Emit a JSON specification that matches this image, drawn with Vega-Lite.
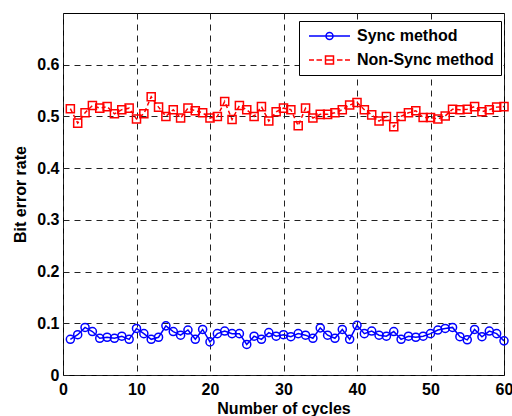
{
  "$schema": "https://vega.github.io/schema/vega-lite/v6.json",
  "width": 441,
  "height": 362,
  "padding": {"left": 63, "top": 13, "right": 8, "bottom": 41},
  "autosize": {"type": "none"},
  "background": "white",
  "config": {
    "view": {"stroke": "black", "strokeWidth": 1},
    "font": "Liberation Sans",
    "axis": {
      "labelFont": "Liberation Sans",
      "labelFontWeight": "bold",
      "labelFontSize": 16,
      "labelColor": "black",
      "titleFont": "Liberation Sans",
      "titleFontWeight": "bold",
      "titleFontSize": 16,
      "titleColor": "black",
      "ticks": false,
      "domain": false,
      "grid": true,
      "gridColor": "#222",
      "gridDash": [6, 5],
      "gridWidth": 1
    }
  },
  "data": {
    "values": [
      {"cycle": 1, "ber": 0.069, "method": "Sync method"},
      {"cycle": 2, "ber": 0.078, "method": "Sync method"},
      {"cycle": 3, "ber": 0.092, "method": "Sync method"},
      {"cycle": 4, "ber": 0.084, "method": "Sync method"},
      {"cycle": 5, "ber": 0.071, "method": "Sync method"},
      {"cycle": 6, "ber": 0.073, "method": "Sync method"},
      {"cycle": 7, "ber": 0.071, "method": "Sync method"},
      {"cycle": 8, "ber": 0.075, "method": "Sync method"},
      {"cycle": 9, "ber": 0.069, "method": "Sync method"},
      {"cycle": 10, "ber": 0.090, "method": "Sync method"},
      {"cycle": 11, "ber": 0.080, "method": "Sync method"},
      {"cycle": 12, "ber": 0.069, "method": "Sync method"},
      {"cycle": 13, "ber": 0.073, "method": "Sync method"},
      {"cycle": 14, "ber": 0.095, "method": "Sync method"},
      {"cycle": 15, "ber": 0.084, "method": "Sync method"},
      {"cycle": 16, "ber": 0.077, "method": "Sync method"},
      {"cycle": 17, "ber": 0.087, "method": "Sync method"},
      {"cycle": 18, "ber": 0.069, "method": "Sync method"},
      {"cycle": 19, "ber": 0.088, "method": "Sync method"},
      {"cycle": 20, "ber": 0.064, "method": "Sync method"},
      {"cycle": 21, "ber": 0.080, "method": "Sync method"},
      {"cycle": 22, "ber": 0.085, "method": "Sync method"},
      {"cycle": 23, "ber": 0.080, "method": "Sync method"},
      {"cycle": 24, "ber": 0.080, "method": "Sync method"},
      {"cycle": 25, "ber": 0.059, "method": "Sync method"},
      {"cycle": 26, "ber": 0.075, "method": "Sync method"},
      {"cycle": 27, "ber": 0.069, "method": "Sync method"},
      {"cycle": 28, "ber": 0.082, "method": "Sync method"},
      {"cycle": 29, "ber": 0.075, "method": "Sync method"},
      {"cycle": 30, "ber": 0.078, "method": "Sync method"},
      {"cycle": 31, "ber": 0.074, "method": "Sync method"},
      {"cycle": 32, "ber": 0.080, "method": "Sync method"},
      {"cycle": 33, "ber": 0.077, "method": "Sync method"},
      {"cycle": 34, "ber": 0.071, "method": "Sync method"},
      {"cycle": 35, "ber": 0.091, "method": "Sync method"},
      {"cycle": 36, "ber": 0.077, "method": "Sync method"},
      {"cycle": 37, "ber": 0.071, "method": "Sync method"},
      {"cycle": 38, "ber": 0.088, "method": "Sync method"},
      {"cycle": 39, "ber": 0.069, "method": "Sync method"},
      {"cycle": 40, "ber": 0.096, "method": "Sync method"},
      {"cycle": 41, "ber": 0.080, "method": "Sync method"},
      {"cycle": 42, "ber": 0.085, "method": "Sync method"},
      {"cycle": 43, "ber": 0.077, "method": "Sync method"},
      {"cycle": 44, "ber": 0.075, "method": "Sync method"},
      {"cycle": 45, "ber": 0.084, "method": "Sync method"},
      {"cycle": 46, "ber": 0.069, "method": "Sync method"},
      {"cycle": 47, "ber": 0.075, "method": "Sync method"},
      {"cycle": 48, "ber": 0.073, "method": "Sync method"},
      {"cycle": 49, "ber": 0.075, "method": "Sync method"},
      {"cycle": 50, "ber": 0.080, "method": "Sync method"},
      {"cycle": 51, "ber": 0.087, "method": "Sync method"},
      {"cycle": 52, "ber": 0.090, "method": "Sync method"},
      {"cycle": 53, "ber": 0.092, "method": "Sync method"},
      {"cycle": 54, "ber": 0.074, "method": "Sync method"},
      {"cycle": 55, "ber": 0.068, "method": "Sync method"},
      {"cycle": 56, "ber": 0.088, "method": "Sync method"},
      {"cycle": 57, "ber": 0.074, "method": "Sync method"},
      {"cycle": 58, "ber": 0.085, "method": "Sync method"},
      {"cycle": 59, "ber": 0.080, "method": "Sync method"},
      {"cycle": 60, "ber": 0.066, "method": "Sync method"},
      {"cycle": 1, "ber": 0.515, "method": "Non-Sync method"},
      {"cycle": 2, "ber": 0.487, "method": "Non-Sync method"},
      {"cycle": 3, "ber": 0.507, "method": "Non-Sync method"},
      {"cycle": 4, "ber": 0.521, "method": "Non-Sync method"},
      {"cycle": 5, "ber": 0.516, "method": "Non-Sync method"},
      {"cycle": 6, "ber": 0.519, "method": "Non-Sync method"},
      {"cycle": 7, "ber": 0.505, "method": "Non-Sync method"},
      {"cycle": 8, "ber": 0.513, "method": "Non-Sync method"},
      {"cycle": 9, "ber": 0.516, "method": "Non-Sync method"},
      {"cycle": 10, "ber": 0.495, "method": "Non-Sync method"},
      {"cycle": 11, "ber": 0.505, "method": "Non-Sync method"},
      {"cycle": 12, "ber": 0.538, "method": "Non-Sync method"},
      {"cycle": 13, "ber": 0.518, "method": "Non-Sync method"},
      {"cycle": 14, "ber": 0.500, "method": "Non-Sync method"},
      {"cycle": 15, "ber": 0.513, "method": "Non-Sync method"},
      {"cycle": 16, "ber": 0.497, "method": "Non-Sync method"},
      {"cycle": 17, "ber": 0.516, "method": "Non-Sync method"},
      {"cycle": 18, "ber": 0.511, "method": "Non-Sync method"},
      {"cycle": 19, "ber": 0.507, "method": "Non-Sync method"},
      {"cycle": 20, "ber": 0.497, "method": "Non-Sync method"},
      {"cycle": 21, "ber": 0.500, "method": "Non-Sync method"},
      {"cycle": 22, "ber": 0.529, "method": "Non-Sync method"},
      {"cycle": 23, "ber": 0.494, "method": "Non-Sync method"},
      {"cycle": 24, "ber": 0.521, "method": "Non-Sync method"},
      {"cycle": 25, "ber": 0.513, "method": "Non-Sync method"},
      {"cycle": 26, "ber": 0.500, "method": "Non-Sync method"},
      {"cycle": 27, "ber": 0.519, "method": "Non-Sync method"},
      {"cycle": 28, "ber": 0.491, "method": "Non-Sync method"},
      {"cycle": 29, "ber": 0.509, "method": "Non-Sync method"},
      {"cycle": 30, "ber": 0.516, "method": "Non-Sync method"},
      {"cycle": 31, "ber": 0.513, "method": "Non-Sync method"},
      {"cycle": 32, "ber": 0.482, "method": "Non-Sync method"},
      {"cycle": 33, "ber": 0.516, "method": "Non-Sync method"},
      {"cycle": 34, "ber": 0.497, "method": "Non-Sync method"},
      {"cycle": 35, "ber": 0.504, "method": "Non-Sync method"},
      {"cycle": 36, "ber": 0.504, "method": "Non-Sync method"},
      {"cycle": 37, "ber": 0.507, "method": "Non-Sync method"},
      {"cycle": 38, "ber": 0.513, "method": "Non-Sync method"},
      {"cycle": 39, "ber": 0.522, "method": "Non-Sync method"},
      {"cycle": 40, "ber": 0.527, "method": "Non-Sync method"},
      {"cycle": 41, "ber": 0.513, "method": "Non-Sync method"},
      {"cycle": 42, "ber": 0.503, "method": "Non-Sync method"},
      {"cycle": 43, "ber": 0.491, "method": "Non-Sync method"},
      {"cycle": 44, "ber": 0.500, "method": "Non-Sync method"},
      {"cycle": 45, "ber": 0.480, "method": "Non-Sync method"},
      {"cycle": 46, "ber": 0.500, "method": "Non-Sync method"},
      {"cycle": 47, "ber": 0.507, "method": "Non-Sync method"},
      {"cycle": 48, "ber": 0.511, "method": "Non-Sync method"},
      {"cycle": 49, "ber": 0.498, "method": "Non-Sync method"},
      {"cycle": 50, "ber": 0.498, "method": "Non-Sync method"},
      {"cycle": 51, "ber": 0.495, "method": "Non-Sync method"},
      {"cycle": 52, "ber": 0.501, "method": "Non-Sync method"},
      {"cycle": 53, "ber": 0.514, "method": "Non-Sync method"},
      {"cycle": 54, "ber": 0.513, "method": "Non-Sync method"},
      {"cycle": 55, "ber": 0.514, "method": "Non-Sync method"},
      {"cycle": 56, "ber": 0.519, "method": "Non-Sync method"},
      {"cycle": 57, "ber": 0.509, "method": "Non-Sync method"},
      {"cycle": 58, "ber": 0.513, "method": "Non-Sync method"},
      {"cycle": 59, "ber": 0.518, "method": "Non-Sync method"},
      {"cycle": 60, "ber": 0.519, "method": "Non-Sync method"}
    ]
  },
  "encoding": {
    "x": {
      "field": "cycle",
      "type": "quantitative",
      "scale": {"domain": [0, 60], "nice": false},
      "axis": {"values": [0, 10, 20, 30, 40, 50, 60], "title": "Number of cycles", "labelPadding": 6, "titlePadding": 3, "labelFlush": false}
    },
    "y": {
      "field": "ber",
      "type": "quantitative",
      "scale": {"domain": [0, 0.7], "nice": false},
      "axis": {"values": [0, 0.1, 0.2, 0.3, 0.4, 0.5, 0.6], "title": "Bit error rate", "labelPadding": 4, "titlePadding": 8, "labelFlush": false, "labelExpr": "datum.value === 0 ? '0' : format(datum.value, '.1f')"}
    },
    "color": {
      "field": "method",
      "type": "nominal",
      "scale": {"domain": ["Sync method", "Non-Sync method"], "range": ["#0000FF", "#FF0000"]},
      "legend": {
        "title": null,
        "orient": "none",
        "legendX": 236,
        "legendY": 8,
        "padding": 7,
        "strokeColor": "black",
        "fillColor": "white",
        "labelFont": "Liberation Sans",
        "labelFontWeight": "bold",
        "labelFontSize": 16,
        "labelColor": "black",
        "labelOffset": 35,
        "rowPadding": 8,
        "symbolSize": 100,
        "symbolStrokeWidth": 1.5,
        "symbolFillColor": "transparent",
        "encode": {
          "symbols": {
            "update": {
              "shape": {"signal": "datum.value === 'Sync method' ? 'M-1,0L7.2,0M3.8,0A0.7,0.7 0 1,1 2.4,0A0.7,0.7 0 1,1 3.8,0' : 'M-1,0L0,0M0.5,0L1.6,0M2.3,-0.8L3.9,-0.8L3.9,0.8L2.3,0.8ZM2.3,0L3.9,0M4.6,0L5.7,0M6.2,0L7.2,0'"},
              "fill": {"value": "transparent"},
              "strokeWidth": {"value": 1.5}
            }
          }
        }
      }
    }
  },
  "layer": [
    {
      "transform": [{"filter": "datum.method === 'Sync method'"}],
      "mark": {"type": "line", "strokeWidth": 1.5}
    },
    {
      "transform": [{"filter": "datum.method === 'Non-Sync method'"}],
      "mark": {"type": "line", "strokeWidth": 1.5, "strokeDash": [4, 3]}
    },
    {
      "transform": [{"filter": "datum.method === 'Sync method'"}],
      "mark": {"type": "point", "shape": "circle", "filled": false, "strokeWidth": 1.5, "opacity": 1, "size": 65}
    },
    {
      "transform": [{"filter": "datum.method === 'Non-Sync method'"}],
      "mark": {"type": "point", "shape": "square", "filled": false, "strokeWidth": 1.5, "opacity": 1, "size": 65}
    }
  ]
}
